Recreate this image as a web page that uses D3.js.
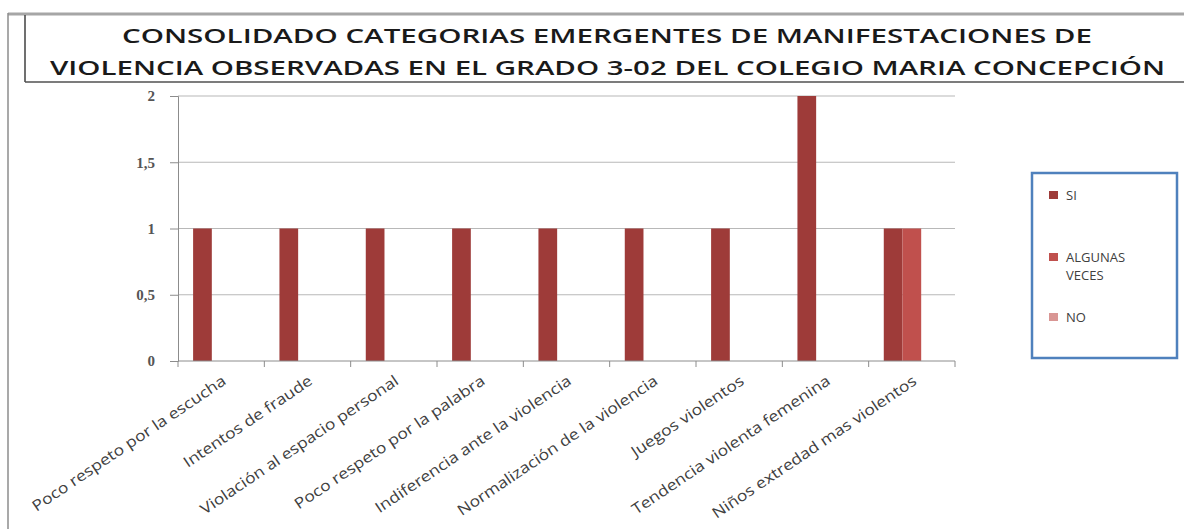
<!DOCTYPE html>
<html><head><meta charset="utf-8">
<script src="https://cdn.jsdelivr.net/npm/d3@7"></script>
<style>html,body{margin:0;padding:0;background:#fff;}svg{display:block;}</style>
</head><body>
<svg id="chart" width="1184" height="529"></svg>
<script>
const categories = ["Poco respeto por la escucha","Intentos de fraude","Violación al espacio personal","Poco respeto por la palabra","Indiferencia ante la violencia","Normalización de la violencia","Juegos violentos","Tendencia violenta femenina","Niños extredad mas violentos"];
const seriesNames = ["SI","ALGUNAS VECES","NO"];
const seriesSI = [1,1,1,1,1,1,1,2,1];
const seriesAlgunas = [0,0,0,0,0,0,0,0,1];
const seriesNo = [0,0,0,0,0,0,0,0,0];
const yTicks = [0,0.5,1,1.5,2];
const yTickLabels = ["0","0,5","1","1,5","2"];
const titleLines = ["CONSOLIDADO  CATEGORIAS  EMERGENTES  DE  MANIFESTACIONES  DE","VIOLENCIA  OBSERVADAS  EN EL GRADO  3-02  DEL COLEGIO  MARIA  CONCEPCIÓN"];
const colors = ["#9E3B39","#C0504D","#D99694"];

const svg = d3.select("#chart");
const seriesData = [seriesSI, seriesAlgunas, seriesNo];

// frame
svg.append("line").attr("x1",8).attr("x2",1184).attr("y1",14).attr("y2",14).attr("stroke","#a6a6a6").attr("stroke-width",3);
svg.append("line").attr("x1",8).attr("x2",8).attr("y1",13).attr("y2",529).attr("stroke","#8c8c8c").attr("stroke-width",1.5);
svg.append("line").attr("x1",25).attr("x2",25).attr("y1",15).attr("y2",82).attr("stroke","#404040").attr("stroke-width",1.5);
svg.append("line").attr("x1",25).attr("x2",1184).attr("y1",82).attr("y2",82).attr("stroke","#505050").attr("stroke-width",1.5);

// title
const tl = [{x1:122,x2:1092,y:43},{x1:50,x2:1165,y:75}];
titleLines.forEach((t,i)=>{
  svg.append("text").attr("x",tl[i].x1).attr("y",tl[i].y)
    .attr("textLength",tl[i].x2-tl[i].x1).attr("lengthAdjust","spacingAndGlyphs")
    .attr("font-family","Open Sans").attr("font-weight","600").attr("font-size",19)
    .attr("fill","#1a1a1a").text(t);
});

const x0 = d3.scaleBand().domain(categories).range([178,955]).paddingInner(0.35).paddingOuter(0.175);
const x1 = d3.scaleBand().domain(seriesNames).range([0,x0.bandwidth()]).padding(0);
const y = d3.scaleLinear().domain([0,2]).range([361,96]);

// gridlines
svg.append("g").selectAll("line").data(yTicks.filter(d=>d>0)).join("line")
  .attr("x1",178).attr("x2",955).attr("y1",d=>y(d)).attr("y2",d=>y(d))
  .attr("stroke","#b8b8b8").attr("stroke-width",1.2);

// y axis
const yAxis = d3.axisLeft(y).tickValues(yTicks).tickFormat((d,i)=>yTickLabels[i]).tickSize(8).tickPadding(15);
const gy = svg.append("g").attr("transform","translate(178,0)").call(yAxis);
gy.select(".domain").attr("stroke","#8c8c8c");
gy.selectAll(".tick line").attr("stroke","#8c8c8c");
gy.selectAll("text").attr("font-family","Liberation Serif").attr("font-size",15).attr("font-weight","bold").attr("fill","#555");

// bars
const groups = svg.append("g").selectAll("g").data(categories).join("g")
  .attr("transform",d=>`translate(${x0(d)},0)`);
groups.selectAll("rect").data((d,ci)=>seriesNames.map((s,si)=>({s,si,v:seriesData[si][ci]}))).join("rect")
  .attr("x",d=>x1(d.s)).attr("width",x1.bandwidth())
  .attr("y",d=>y(d.v)).attr("height",d=>y(0)-y(d.v))
  .attr("fill",d=>colors[d.si]);

// x axis
const xAxisG = svg.append("g");
xAxisG.append("line").attr("x1",178).attr("x2",955).attr("y1",361).attr("y2",361).attr("stroke","#8c8c8c");
const bnd = d3.range(categories.length+1).map(i=>178 + i*x0.step());
xAxisG.selectAll("line.t").data(bnd).join("line").attr("class","t")
  .attr("x1",d=>d).attr("x2",d=>d).attr("y1",361).attr("y2",367).attr("stroke","#8c8c8c");
xAxisG.selectAll("text").data(categories).join("text")
  .attr("transform",d=>`translate(${x0(d)+x0.bandwidth()/2+3},379) rotate(-34) scale(1.17,1)`)
  .attr("text-anchor","end").attr("dy","0.35em")
  .attr("font-family","Open Sans").attr("font-size",15).attr("fill","#404040")
  .text(d=>d);

// legend
svg.append("rect").attr("x",1032).attr("y",173).attr("width",145).attr("height",185)
  .attr("fill","#fff").attr("stroke","#4F81BD").attr("stroke-width",2.5);
const legendItems = [{lines:["SI"],y:195},{lines:["ALGUNAS","VECES"],y:257},{lines:["NO"],y:317}];
legendItems.forEach((it,i)=>{
  svg.append("rect").attr("x",1049).attr("y",it.y-4).attr("width",9).attr("height",8).attr("fill",colors[i]);
  const t = svg.append("text").attr("x",1066).attr("y",it.y)
    .attr("font-family","Open Sans").attr("font-size",13).attr("fill","#404040");
  it.lines.forEach((l,j)=>t.append("tspan").attr("x",1066).attr("dy",j===0?"0.35em":"18px").text(l));
});
</script>
</body></html>
